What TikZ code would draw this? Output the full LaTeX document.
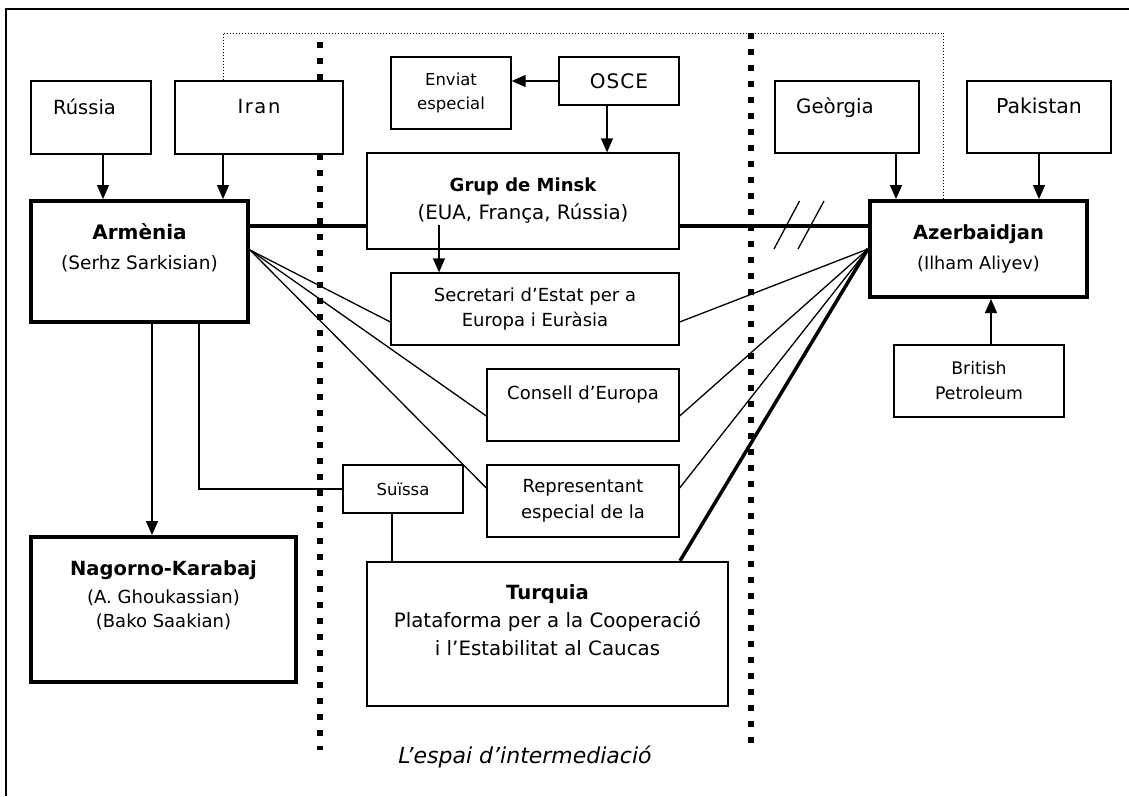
\documentclass[tikz,border=0pt]{standalone}
\usepackage{fontspec}
\setmainfont{DejaVu Sans}
\usetikzlibrary{arrows.meta}

\begin{document}
\begin{tikzpicture}[x=1pt, y=-1pt,
    >={Triangle[length=14pt,width=12pt]},
    box/.style={draw, line width=1.3pt, fill=white, align=center, inner sep=0pt,
                font=\fontsize{18}{22}\selectfont},
    bigbox/.style={box, line width=4pt},
    link/.style={line width=1.3pt},
    bond/.style={line width=3.3pt},
    zone/.style={line width=6pt, dash pattern=on 6pt off 10pt},
    faint/.style={line width=1pt, dotted}]
    \useasboundingbox (0,0) rectangle (1129,796);

    % Marc
    \draw[line width=1.5pt] (6,796) -- (6,9) -- (1129,9);

    % Franges de l'espai d'intermediacio
    \draw[zone] (320,42) -- (320,750);
    \draw[zone] (751,33) -- (751,745);

    % Actors
    \node[box, minimum width=120pt, minimum height=73pt, font=\fontsize{19.5}{22}\selectfont] (russia) at (91,117.5) {\hspace*{-13pt}Rússia\\~};
    \node[box, minimum width=168pt, minimum height=73pt, font=\fontsize{19.5}{22}\selectfont\addfontfeature{LetterSpace=8}] (iran) at (259,117.5) {Iran\\~};
    \node[box, minimum width=120pt, minimum height=72pt, font=\fontsize{16.5}{24}\selectfont] (enviat) at (451,93) {Enviat\\especial};
    \node[box, minimum width=120pt, minimum height=48pt, font=\fontsize{20}{24}\selectfont\addfontfeature{LetterSpace=5}] (osce) at (619,81) {OSCE};
    \node[box, minimum width=312pt, minimum height=96pt, font=\fontsize{19.8}{28}\selectfont] (minsk) at (523,201)
        {{\fontsize{18}{28}\selectfont\bfseries Grup de Minsk}\\(EUA, França, Rússia)};
    \node[bigbox, minimum width=217pt, minimum height=121pt, font=\fontsize{18.5}{30}\selectfont] (armenia) at (139.5,261.5)
        {{\fontsize{20}{30}\selectfont\bfseries Armènia}\\(Serhz Sarkisian)\\~};
    \node[bigbox, minimum width=217pt, minimum height=96pt, font=\fontsize{17.7}{30}\selectfont] (azer) at (978.5,249)
        {{\fontsize{19.5}{30}\selectfont\bfseries Azerbaidjan}\\(Ilham Aliyev)};
    \node[box, minimum width=144pt, minimum height=72pt, font=\fontsize{19.8}{22}\selectfont] (georgia) at (847,117) {\hspace*{-24pt}Geòrgia\\~};
    \node[box, minimum width=144pt, minimum height=72pt, font=\fontsize{20.5}{22}\selectfont] (pakistan) at (1039,117) {Pakistan\\~};
    \node[box, minimum width=170pt, minimum height=72pt, font=\fontsize{17.3}{25}\selectfont] (bp) at (979,381) {British\\Petroleum};
    \node[box, minimum width=288pt, minimum height=72pt, font=\fontsize{18}{25}\selectfont] (secretari) at (535,309) {Secretari d’Estat per a\\Europa i Euràsia};
    \node[box, minimum width=192pt, minimum height=72pt, font=\fontsize{18}{24}\selectfont] (consell) at (583,405) {Consell d’Europa\\~};
    \node[box, minimum width=192pt, minimum height=72pt, font=\fontsize{18}{26}\selectfont] (repres) at (583,501) {Representant\\especial de la};
    \node[box, minimum width=120pt, minimum height=48pt, font=\fontsize{16.5}{20}\selectfont] (suissa) at (403,489) {Suïssa};
    \node[bigbox, minimum width=265pt, minimum height=145pt, font=\fontsize{18}{24}\selectfont] (nagorno) at (163.5,609.5)
        {{\fontsize{19.5}{30}\selectfont\bfseries Nagorno-Karabaj}\\[4pt](A. Ghoukassian)\\(Bako Saakian)\\[6pt]~};
    \node[box, line width=2.3pt, minimum width=361pt, minimum height=144pt, font=\fontsize{19.8}{28}\selectfont] (turquia) at (547.5,634)
        {{\fontsize{19.6}{28}\selectfont\bfseries Turquia}\\Plataforma per a la Cooperació\\i l’Estabilitat al Caucas\\~};

    % Suports
    \draw[link, ->] ([xshift=12pt]russia.south) -- ([xshift=12pt]russia.south |- armenia.north);
    \draw[link, ->] ([xshift=-36pt]iran.south) -- ([xshift=-36pt]iran.south |- armenia.north);
    \draw[link, ->] ([xshift=49pt]georgia.south) -- ([xshift=49pt]georgia.south |- azer.north);
    \draw[link, ->] (pakistan.south) -- (pakistan.south |- azer.north);
    \draw[link, ->] ([xshift=12pt]bp.north) -- ([xshift=12pt]bp.north |- azer.south);
    \draw[link, ->] (osce.west) -- (osce.west -| enviat.east);
    \draw[link, ->] ([xshift=-12pt]osce.south) -- ([xshift=-12pt]osce.south |- minsk.north);
    \draw[link, ->] ([xshift=-84pt,yshift=-24pt]minsk.center) -- ([xshift=-84pt]minsk.center |- secretari.north);
    \draw[link, ->] ([xshift=12.5pt]armenia.south) -- ([xshift=12.5pt]armenia.south |- nagorno.north);

    % Suissa
    \draw[link] ([xshift=59.5pt]armenia.south) |- (suissa.west);
    \draw[link] ([xshift=-11pt]suissa.south) -- ([xshift=-11pt]suissa.south |- turquia.north);

    % Negociacio directa (trencada)
    \draw[bond] ([yshift=-25pt]minsk.west) -- ([yshift=-25pt]minsk.west -| armenia.east);
    \draw[bond] ([yshift=-25pt]minsk.east) -- ([yshift=-25pt]minsk.east -| azer.west);
    \draw[link] (774,249) -- (799.5,201) (798,249) -- (824,201);

    % Relacions amb els mediadors
    \foreach \to/\dy in {secretari/-13, consell/-11, repres/13}{
        \draw[link] ([yshift=11.5pt]armenia.east) -- ([yshift=\dy pt]\to.west);
        \draw[link] (azer.west) -- ([yshift=\dy pt]\to.east);
    }
    \draw[line width=3.5pt] (azer.west) -- ([xshift=132.5pt]turquia.north);

    % Iran - Azerbaidjan
    \coordinate (dalt) at (600,33);
    \draw[faint] ([xshift=-36pt]iran.north) |- (dalt) -| ([xshift=-35pt]azer.north);

    \node[font=\fontsize{22}{28}\selectfont\itshape] (espai) at (525,757) {L’espai d’intermediació};
\end{tikzpicture}
\end{document}
